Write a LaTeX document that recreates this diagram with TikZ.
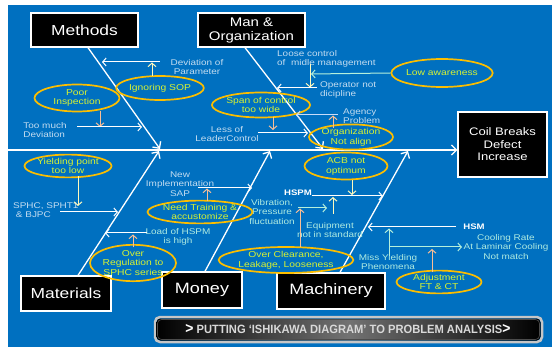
\documentclass[tikz,border=0pt]{standalone}
\usepackage{fontspec}
\setmainfont{Liberation Sans}[FakeStretch=1.2]
\newfontfamily\bannerfont{Liberation Sans}
\usetikzlibrary{arrows.meta,shapes.geometric}
\definecolor{bg}{RGB}{0,112,192}
\definecolor{ellb}{RGB}{252,190,0}
\definecolor{elltxt}{RGB}{215,242,50}
\definecolor{smalltxt}{RGB}{195,220,240}
\definecolor{cyantxt}{RGB}{175,235,225}
\definecolor{peach}{RGB}{250,190,150}
\definecolor{lyellow}{RGB}{255,250,190}
\definecolor{lcyan}{RGB}{180,240,220}
\definecolor{lblue}{RGB}{200,220,250}
\begin{document}
\begin{tikzpicture}[x=1pt,y=-1pt,
  catbox/.style={draw=white,line width=1.3pt,fill=black,text=white,inner sep=0pt,align=center},
  causeell/.style={ellipse,draw=ellb,line width=1.7pt,inner sep=0pt,align=center,text=elltxt,font=\fontsize{8.6}{9.8}\selectfont},
  note/.style={text=smalltxt,align=center,inner sep=0pt,font=\fontsize{8.3}{9.4}\selectfont},
  cnote/.style={note,text=cyantxt},
  bone/.style={white,line width=1.3pt,-{Straight Barb[length=5pt,width=10pt,line width=1.3pt]}},
  sub/.style={line width=1pt,-{Straight Barb[length=3.5pt,width=8pt,line width=1pt]}},
]
\useasboundingbox (0,0) rectangle (554,347);
\fill[bg] (8,5) rectangle (552,347);

% category boxes
\node[catbox,minimum width=107pt,minimum height=34pt,font=\fontsize{14.5}{16}\selectfont] (meth) at (84.5,30) {Methods};
\node[catbox,minimum width=107pt,minimum height=34pt,font=\fontsize{12.5}{14}\selectfont] (man) at (251.5,30) {Man \&\\Organization};
\node[catbox,minimum width=89pt,minimum height=65pt,font=\fontsize{10.9}{12.5}\selectfont] (coil) at (502.5,144.5) {Coil Breaks\\Defect\\Increase};
\node[catbox,minimum width=90pt,minimum height=35pt,font=\fontsize{14.5}{16}\selectfont] (mat) at (66,293.5) {Materials};
\node[catbox,minimum width=80pt,minimum height=36pt,font=\fontsize{15}{16}\selectfont] (money) at (202,290) {Money};
\node[catbox,minimum width=108pt,minimum height=36pt,font=\fontsize{15}{16}\selectfont] (mach) at (331,291) {Machinery};

% spine and bones
\coordinate (spineL) at (8,150);
\draw[bone] (spineL) -- (spineL -| coil.west);
\coordinate (methE) at (160,149);
\coordinate (manE) at (323,149);
\coordinate (matE) at (159,151);
\coordinate (moneyE) at (270,151);
\coordinate (machE) at (408,151);
\draw[bone] ([xshift=3.5pt]meth.south) -- (methE);
\draw[bone] ([xshift=-6.5pt]man.south) -- (manE);
\draw[bone] ([xshift=12pt]mat.north) -- (matE);
\draw[bone] ([xshift=3pt]money.north) -- (moneyE);
\draw[bone] ([xshift=9pt]mach.north) -- (machE);

% ---------- Methods ----------
\node[note] (devpar) at (197,67) {Deviation of\\Parameter};
\node[causeell,minimum width=85pt,minimum height=24pt] (ign) at (160,88) {Ignoring SOP};
\node[causeell,minimum width=85pt,minimum height=27pt] (poor) at (77,98) {Poor\\Inspection};
\node[note,align=left] (toomuch) at (45,130) {Too much\\Deviation};
\coordinate (a1s) at (160,62); \coordinate (a1e) at (102,62);
\draw[sub,white] (a1s) -- (a1e);
\coordinate (a2s) at (152,76); \coordinate (a2e) at (152,62.5);
\draw[sub,lyellow] (a2s) -- (a2e);
\coordinate (a3s) at (100,111.5); \coordinate (a3e) at (100,127);
\draw[sub,peach] (a3s) -- (a3e);
\coordinate (a4s) at (77,127); \coordinate (a4e) at (142,127);
\draw[sub,white] (a4s) -- (a4e);

% ---------- Man & Organization ----------
\node[note,anchor=west,align=left] (loose) at (277,59) {Loose control\\of\ \ midle management};
\node[causeell,minimum width=98pt,minimum height=28pt] (low) at (442,73) {Low awareness};
\node[note,anchor=west,align=left] (oper) at (320,90) {Operator not\\dicipline};
\node[causeell,minimum width=90pt,minimum height=25pt] (span) at (261,105) {Span of control\\too wide};
\node[note] (lessof) at (227,134) {Less of\\LeaderControl};
\node[note,anchor=west,align=left] (agency) at (343,116) {Agency\\Problem};
\node[causeell,minimum width=84pt,minimum height=19pt] (org) at (351,137) {Organization\\Not align};
\coordinate (b1e) at (311,74);
\draw[sub,lcyan] (low.west) -- (b1e);
\coordinate (b2s) at (310,64); \coordinate (b2e) at (310,87.5);
\draw[sub,lyellow] (b2s) -- (b2e);
\coordinate (b3s) at (317,88); \coordinate (b3e) at (277,88);
\draw[sub,white] (b3s) -- (b3e);
\coordinate (b4s) at (273,117); \coordinate (b4e) at (273,130);
\draw[sub,peach] (b4s) -- (b4e);
\coordinate (b5s) at (258,133); \coordinate (b5e) at (308,133);
\draw[sub,white] (b5s) -- (b5e);
\coordinate (b6s) at (338,115); \coordinate (b6e) at (296,115);
\draw[sub,lblue] (b6s) -- (b6e);
\coordinate (b7s) at (333,128); \coordinate (b7e) at (333,115.5);
\draw[sub,peach] (b7s) -- (b7e);

% ---------- Machinery ----------
\node[causeell,minimum width=83pt,minimum height=27pt] (acb) at (346,166) {ACB not\\optimum};
\node[text=white,inner sep=0pt,font=\bfseries\fontsize{8}{9}\selectfont] (hspm) at (298,193) {HSPM};
\node[cnote] (equip) at (330,230) {Equipment\\not in standard};
\node[cnote] (vib) at (272,212) {Vibration,\\Pressure\\fluctuation};
\node[causeell,minimum width=121pt,minimum height=26pt] (overcl) at (286,260) {Over Clearance,\\Leakage, Looseness};
\node[text=white,inner sep=0pt,font=\bfseries\fontsize{8}{9}\selectfont] (hsm) at (474,227) {HSM};
\node[cnote] (cool) at (506,247) {Cooling Rate\\At Laminar Cooling\\Not match};
\node[cnote] (miss) at (388,262) {Miss Yielding\\Phenomena};
\node[causeell,minimum width=85pt,minimum height=19pt] (adj) at (439,282) {Adjustment\\FT \& CT};
\coordinate (c1s) at (352,180); \coordinate (c1e) at (352,195);
\draw[sub,lyellow] (c1s) -- (c1e);
\coordinate (c2s) at (312,196); \coordinate (c2e) at (383,196);
\draw[sub,white] (c2s) -- (c2e);
\coordinate (c3s) at (333,214); \coordinate (c3e) at (333,197);
\draw[sub,lyellow] (c3s) -- (c3e);
\coordinate (c4s) at (298,208); \coordinate (c4e) at (327,208);
\draw[sub,lcyan] (c4s) -- (c4e);
\coordinate (c5s) at (300,247); \coordinate (c5e) at (300,208.5);
\draw[sub,peach] (c5s) -- (c5e);
\coordinate (c6s) at (456,227); \coordinate (c6e) at (368,227);
\draw[sub,white] (c6s) -- (c6e);
\coordinate (c7s) at (389,256); \coordinate (c7e) at (389,228.5);
\draw[sub,lcyan] (c7s) -- (c7e);
\coordinate (c8s) at (389,247); \coordinate (c8e) at (462,247);
\draw[sub,lcyan] (c8s) -- (c8e);
\coordinate (c9s) at (432,272.5); \coordinate (c9e) at (432,249);
\draw[sub,peach] (c9s) -- (c9e);

% ---------- Money ----------
\node[note] (newimpl) at (180,184) {New\\Implementation\\SAP};
\node[causeell,minimum width=90pt,minimum height=22pt] (need) at (200,212) {Need Training \&\\accustomize};
\node[cnote] (load) at (178,237) {Load of HSPM\\is high};
\node[causeell,minimum width=84pt,minimum height=31pt] (overreg) at (133,263) {Over\\Regulation to\\SPHC series};
\coordinate (d1s) at (198,188); \coordinate (d1e) at (252,188);
\draw[sub,white] (d1s) -- (d1e);
\coordinate (d2s) at (207,201.5); \coordinate (d2e) at (207,188.5);
\draw[sub,peach] (d2s) -- (d2e);
\coordinate (d3s) at (147,233); \coordinate (d3e) at (105,233);
\draw[sub,white] (d3s) -- (d3e);
\coordinate (d4s) at (133,247.5); \coordinate (d4e) at (133,234.5);
\draw[sub,peach] (d4s) -- (d4e);

% ---------- Materials ----------
\node[causeell,minimum width=84pt,minimum height=20pt] (yield) at (68,166) {Yielding point\\too low};
\node[note,anchor=west,align=left] (sphc) at (13,210) {SPHC, SPHT1\\\ \& BJPC};
\coordinate (e1s) at (78,176); \coordinate (e1e) at (78,206);
\draw[sub,lyellow] (e1s) -- (e1e);
\coordinate (e2s) at (60,212); \coordinate (e2e) at (118,212);
\draw[sub,white] (e2s) -- (e2e);

% ---------- Banner ----------
\draw[line width=2.5pt,color=gray!45!white,rounded corners=5pt] (155,317) rectangle (542,342);
\path[rounded corners=4pt,left color=black,right color=black,middle color=black!55!white] (156.5,318.5) rectangle (540.5,340.5);
\draw[line width=0.6pt,color=black!70!white,rounded corners=4pt] (157.5,319.5) rectangle (539.5,339.5);
\node[inner sep=0pt,font=\bannerfont\bfseries\fontsize{12}{12}\selectfont] (banner) at (348,329.5)
  {\scalebox{0.93}[1]{\textcolor{white}{\fontsize{15}{15}\selectfont>}\ \textcolor{gray!30!white}{PUTTING ‘ISHIKAWA DIAGRAM’ TO PROBLEM ANALYSIS}\textcolor{white}{\fontsize{15}{15}\selectfont>}}};
\end{tikzpicture}
\end{document}
